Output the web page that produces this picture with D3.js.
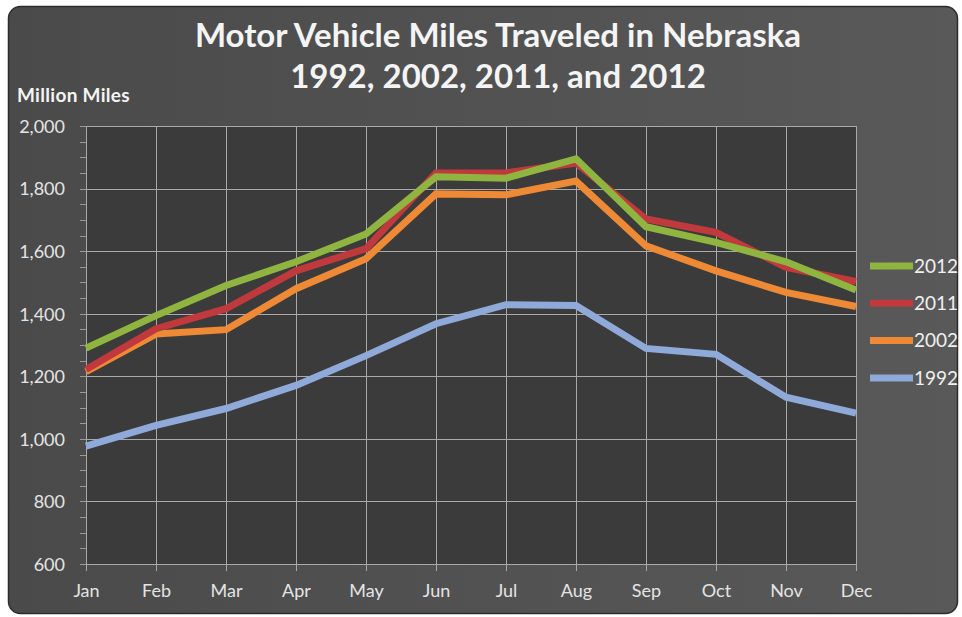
<!DOCTYPE html>
<html>
<head>
<meta charset="utf-8">
<script src="https://cdn.jsdelivr.net/npm/d3@7"></script>
<style>
  body { margin: 0; background: #fff; }
  svg { display: block; font-family: Lato, "Open Sans", sans-serif; }
</style>
</head>
<body>
<svg id="chart" width="962" height="617"></svg>
<script>
let months = ['Jan', 'Feb', 'Mar', 'Apr', 'May', 'Jun', 'Jul', 'Aug', 'Sep', 'Oct', 'Nov', 'Dec'];
let yTicks = [600, 800, 1000, 1200, 1400, 1600, 1800, 2000];

let v2012 = [1290, 1394, 1490, 1566, 1655, 1838, 1833, 1895, 1678, 1628, 1566, 1476];
let v2011 = [1222, 1352, 1416, 1537, 1608, 1850, 1850, 1882, 1703, 1660, 1548, 1503];
let v2002 = [1215, 1335, 1349, 1480, 1576, 1783, 1780, 1824, 1617, 1537, 1468, 1423];
let v1992 = [977, 1043, 1097, 1171, 1266, 1368, 1429, 1426, 1289, 1270, 1133, 1082];

let series = [
  {name: '1992', values: v1992, color: '#8fa9d9'},
  {name: '2002', values: v2002, color: '#ee8a36'},
  {name: '2011', values: v2011, color: '#c0393c'},
  {name: '2012', values: v2012, color: '#8fb440'}
];
let legendOrder = ['2012', '2011', '2002', '1992'];

let margin = {top: 126, right: 106, bottom: 53, left: 86};
let W = 962, H = 617;
let width = W - margin.left - margin.right,
    height = H - margin.top - margin.bottom;

let svg = d3.select('#chart');

let defs = svg.append('defs');
let grad = defs.append('linearGradient').attr('id', 'bg').attr('x1', 0).attr('x2', 1);
grad.append('stop').attr('offset', '0%').attr('stop-color', '#4a4a4a');
grad.append('stop').attr('offset', '100%').attr('stop-color', '#595959');

svg.append('rect')
  .attr('x', 8.5).attr('y', 6.5)
  .attr('width', 949).attr('height', 607)
  .attr('rx', 12)
  .attr('fill', 'url(#bg)')
  .attr('stroke', '#2c2c2c')
  .attr('stroke-width', 1.5);

// title
let title = svg.append('text')
  .attr('text-anchor', 'middle')
  .attr('fill', '#f4f4f4')
  .style('font-size', '33px')
  .style('font-weight', 'bold');
title.append('tspan').attr('x', 498).attr('y', 47).text('Motor Vehicle Miles Traveled in Nebraska');
title.append('tspan').attr('x', 498).attr('y', 88).text('1992, 2002, 2011, and 2012');

svg.append('text')
  .attr('x', 17).attr('y', 102)
  .attr('fill', '#f4f4f4')
  .style('font-size', '19px')
  .style('font-weight', 'bold')
  .style('letter-spacing', '0.3px')
  .text('Million Miles');

let g = svg.append('g')
  .attr('transform', `translate(${margin.left},${margin.top})`);

let sx = d3.scalePoint().domain(months).range([0, width]);
let sy = d3.scaleLinear().domain([600, 2000]).range([height, 0]);

g.append('rect')
  .attr('width', width).attr('height', height)
  .attr('fill', '#3b3b3b');

// grid
g.append('g').selectAll('line')
  .data(yTicks)
  .join('line')
    .attr('x1', 0).attr('x2', width)
    .attr('y1', d => Math.round(sy(d)) + 0.5)
    .attr('y2', d => Math.round(sy(d)) + 0.5)
    .attr('stroke', '#a9a9a9');

g.append('g').selectAll('line')
  .data(months)
  .join('line')
    .attr('x1', d => Math.round(sx(d)) + 0.5)
    .attr('x2', d => Math.round(sx(d)) + 0.5)
    .attr('y1', 0).attr('y2', height + 7)
    .attr('stroke', '#a9a9a9');

// minor y ticks
g.append('g').selectAll('line')
  .data(d3.range(600, 2001, 50))
  .join('line')
    .attr('x1', -6).attr('x2', 0)
    .attr('y1', d => Math.round(sy(d)) + 0.5)
    .attr('y2', d => Math.round(sy(d)) + 0.5)
    .attr('stroke', '#9a9a9a');

// axes labels
let y_axis = d3.axisLeft(sy).tickValues(yTicks).tickFormat(d3.format(',')).tickSize(0).tickPadding(21);
let x_axis = d3.axisBottom(sx).tickSize(0).tickPadding(20);

g.append('g').attr('class', 'y axis').call(y_axis);
g.append('g').attr('class', 'x axis')
  .attr('transform', `translate(0,${height})`)
  .call(x_axis);

g.selectAll('.axis .domain').remove();
g.selectAll('.axis text')
  .attr('fill', '#e4e4e4')
  .style('font-size', '18px')
  .style('font-family', 'Lato, "Open Sans", sans-serif');
g.selectAll('.y.axis text').attr('dy', '0.35em');

// lines
let line = d3.line()
  .x((d, i) => sx(months[i]))
  .y(d => sy(d));

g.append('g').selectAll('path')
  .data(series)
  .join('path')
    .attr('d', d => line(d.values))
    .attr('fill', 'none')
    .attr('stroke', d => d.color)
    .attr('stroke-width', 7)
    .attr('stroke-linejoin', 'miter');

// legend
let legend = svg.append('g').attr('transform', 'translate(870,266)');
let items = legend.selectAll('g')
  .data(legendOrder.map(n => series.find(s => s.name === n)))
  .join('g')
    .attr('transform', (d, i) => `translate(0,${i * 37.3})`);

items.append('line')
  .attr('x1', 0).attr('x2', 43)
  .attr('stroke', d => d.color)
  .attr('stroke-width', 7);

items.append('text')
  .attr('x', 44).attr('dy', '0.35em')
  .attr('fill', '#f0f0f0')
  .style('font-size', '19px')
  .text(d => d.name);
</script>
</body>
</html>
